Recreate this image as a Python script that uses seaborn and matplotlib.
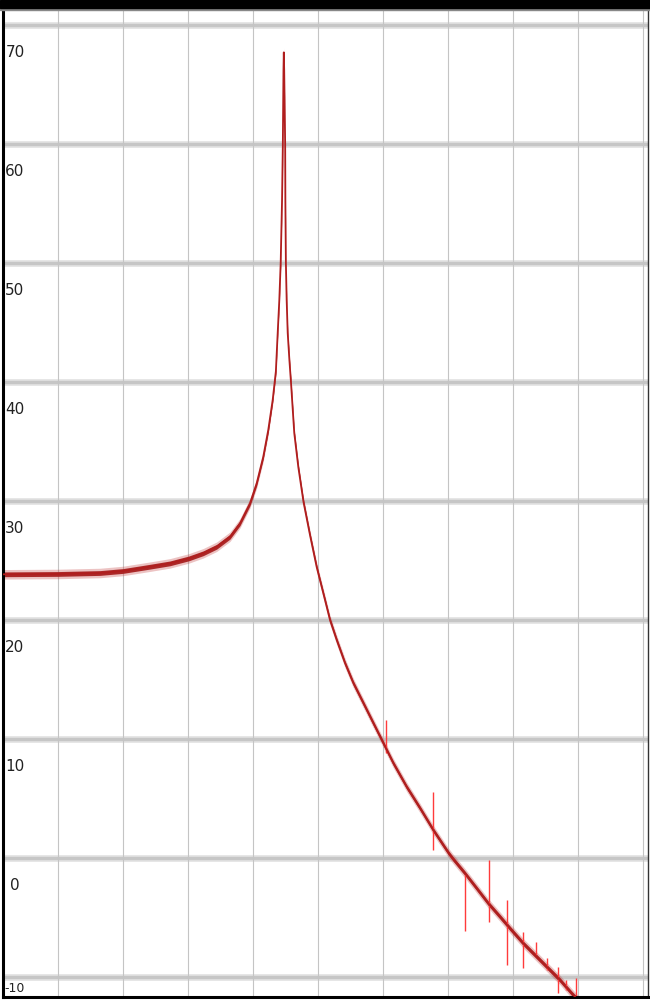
import numpy as np
import pandas as pd
import matplotlib
matplotlib.use("Agg")
import matplotlib.pyplot as plt
import matplotlib.transforms as mtransforms
from matplotlib.patches import Rectangle
import seaborn as sns

# ---- data ----
freq = [0.14, 1.0, 1.646, 2.0, 2.415, 2.723, 3.015, 3.235, 3.442, 3.646, 3.8,
        3.954, 4.057, 4.158, 4.235, 4.303, 4.352, 4.38, 4.405, 4.426, 4.447,
        4.459, 4.465, 4.469, 4.474,
        4.48, 4.486, 4.495, 4.498, 4.506, 4.518, 4.534, 4.56, 4.585, 4.635,
        4.697, 4.777, 4.877, 4.98, 5.108, 5.185, 5.288, 5.415, 5.543, 5.697,
        5.851, 6.005, 6.158, 6.365, 6.569, 6.774, 6.877, 7.005, 7.082, 7.262,
        7.442, 7.62, 7.8, 7.954, 8.158, 8.364, 8.569, 8.723, 8.903, 9.031]
level = [23.84, 23.87, 23.95, 24.12, 24.48, 24.76, 25.18, 25.61, 26.16, 27.0, 28.13,
         29.81, 31.49, 33.72, 35.97, 38.49, 40.9, 44.12, 46.89, 50.0, 55.29,
         59.92, 63.7, 66.2, 67.7,
         66.2, 63.7, 59.92, 55.29, 50.0, 46.89, 44.12, 41.85, 39.92, 35.71,
         32.86, 29.92, 27.14, 24.45, 21.68, 20.0, 18.32, 16.39, 14.71, 13.03,
         11.34, 9.66, 7.98, 5.97, 4.2, 2.35, 1.5, 0.45, -0.1, -1.29,
         -2.55, -3.81, -4.93, -5.91, -7.17, -8.29, -9.41, -10.25, -11.37, -12.1]

spike_x = [6.05, 6.77, 7.26, 7.63, 7.91, 8.15, 8.35, 8.53, 8.70, 8.82, 8.97]
spike_lo = [8.8, 0.67, -6.16, -5.35, -9.0, -9.27, -8.15, -9.41, -11.37, -11.09, -11.66]
spike_hi = [11.6, 5.55, -1.29, -0.17, -3.53, -6.2, -7.03, -8.43, -9.13, -10.25, -10.1]

y_ticks = [70, 60, 50, 40, 30, 20, 10, 0, -10]
x_grid = [1, 2, 3, 4, 5, 6, 7, 8, 9, 10]

df = pd.DataFrame({"freq": freq, "level": level})

sns.set_theme(style="white")
plt.rcParams["font.family"] = ["Liberation Sans Narrow", "DejaVu Sans"]

fig = plt.figure(figsize=(6.5, 10), dpi=100)
W, H = 650, 1000
ax = fig.add_axes([3 / W, 3 / H, (648 - 3) / W, (992 - 3) / H])
ax.set_xlim(0.154, 10.077)
ax.set_ylim(-11.68, 71.43)

# grid
ax.set_yticks(y_ticks)
ax.set_xticks(x_grid)
for yv in y_ticks:
    ax.axhline(yv, color="#e2e2e2", lw=4.8, zorder=0)
    ax.axhline(yv, color="#c6c6c6", lw=2.4, zorder=0.1)
for xv in x_grid:
    ax.axvline(xv, color="#c4c4c4", lw=0.8, zorder=0.2)
ax.tick_params(left=False, bottom=False, labelleft=False, labelbottom=False)

# curve: band of constant vertical height + thin core line
x = np.asarray(freq)
y = np.asarray(level)
ax.fill_between(x, y - 0.4, y + 0.4, color="#c23a3a", alpha=0.3, lw=0, zorder=2)
ax.fill_between(x, y - 0.2, y + 0.2, color="#a82020", alpha=0.95, lw=0, zorder=2.1)
sns.lineplot(data=df, x="freq", y="level", ax=ax, color="#b01e1e", lw=1.3,
             sort=False, zorder=3, legend=False)

# spikes
ax.vlines(spike_x, spike_lo, spike_hi, color="#ff3b3b", lw=1.0, zorder=2.5)

# y labels inside the plot, below each gridline
blend = mtransforms.blended_transform_factory(ax.transAxes, ax.transData)
for yv in y_ticks:
    if yv == -10:
        ax.text(0.0185, -11.55, str(yv), transform=blend, ha="center", va="bottom",
                fontsize=9, color="#222222", zorder=4)
    else:
        ax.text(0.0185, yv - 2.27, str(yv), transform=blend, ha="center", va="center",
                fontsize=11, color="#222222", zorder=4)

ax.set_xlabel("")
ax.set_ylabel("")

# frame
for side in ["left", "bottom"]:
    ax.spines[side].set_color("black")
    ax.spines[side].set_linewidth(2.2)
ax.spines["right"].set_color("#333333")
ax.spines["right"].set_linewidth(1.0)
ax.spines["top"].set_visible(False)
fig.patches.append(Rectangle((0, 1 - 8 / H), 1, 8 / H, transform=fig.transFigure,
                             color="black", zorder=10))
fig.patches.append(Rectangle((0, 1 - 10 / H), 1, 2 / H, transform=fig.transFigure,
                             color="#888888", zorder=9))

fig.savefig("out.png", dpi=100)
